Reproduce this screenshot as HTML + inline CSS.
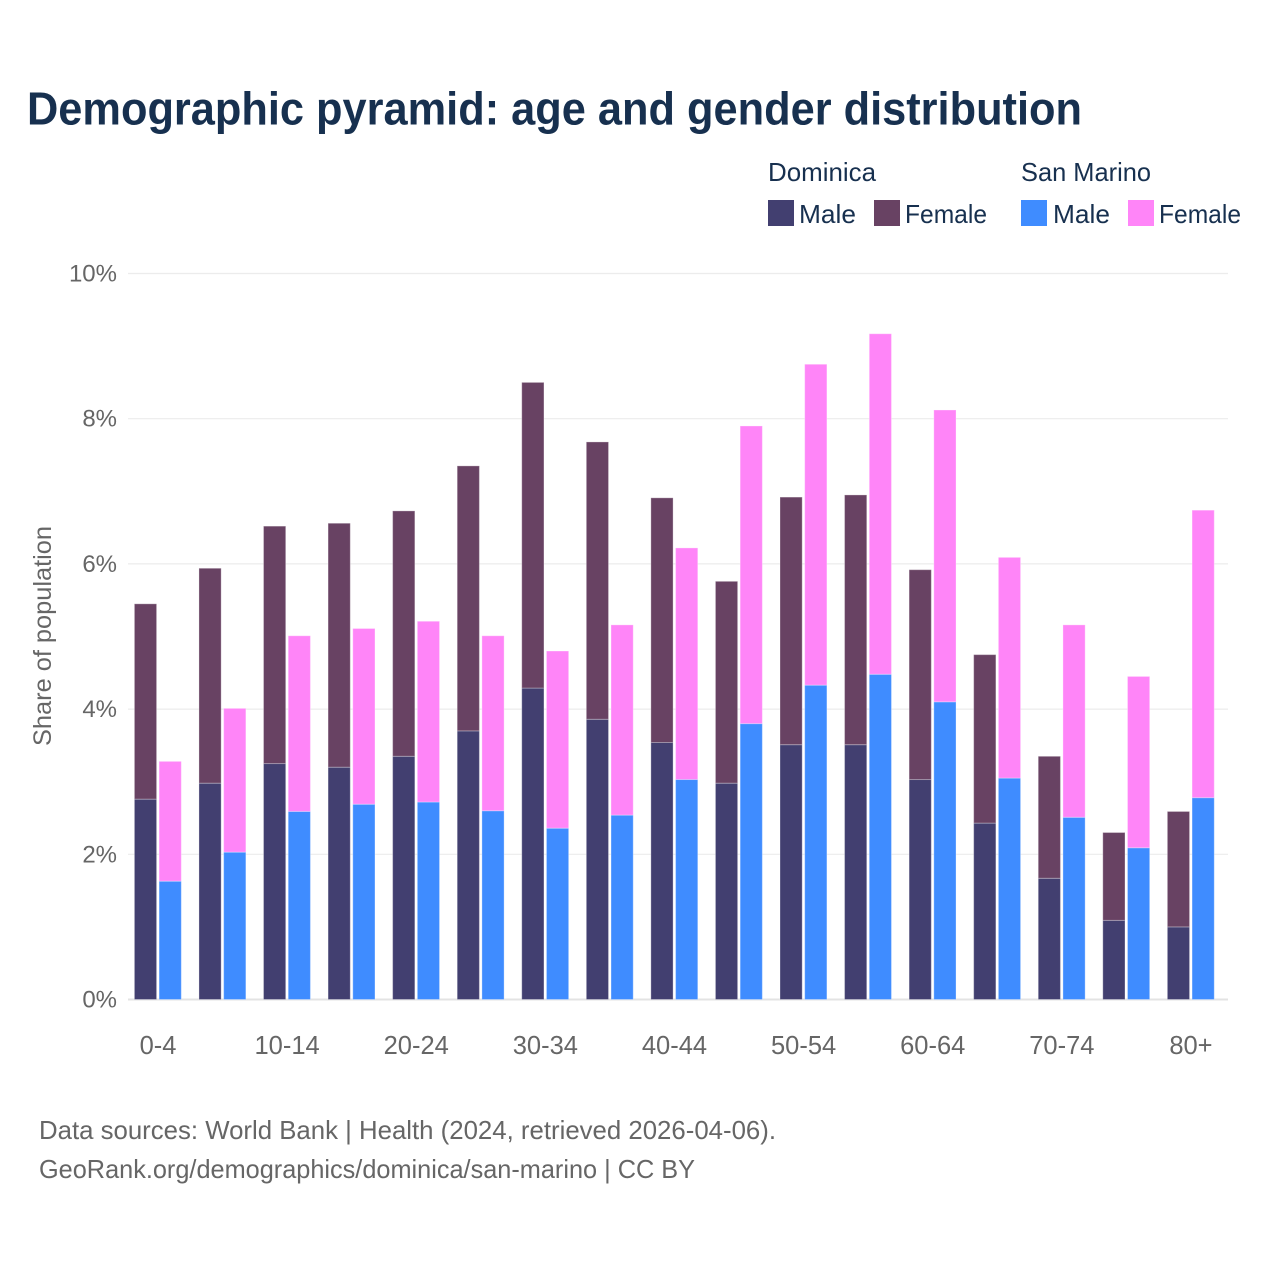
<!DOCTYPE html>
<html lang="en">
<head>
<meta charset="utf-8">
<title>Demographic pyramid</title>
<style>
html,body{margin:0;padding:0;background:#fff;}
svg{display:block;font-family:"Liberation Sans",sans-serif;}
</style>
</head>
<body>
<svg id="chart" width="1280" height="1280" viewBox="0 0 1280 1280" xmlns="http://www.w3.org/2000/svg">
  <rect width="1280" height="1280" fill="#ffffff"/>
  <text x="27" y="124.5" font-size="46" font-weight="700" fill="#17304f" textLength="1055" lengthAdjust="spacingAndGlyphs">Demographic pyramid: age and gender distribution</text>

  <g font-size="26" fill="#17304f">
    <text x="768" y="181" textLength="108" lengthAdjust="spacingAndGlyphs">Dominica</text>
    <text x="1021" y="181" textLength="130" lengthAdjust="spacingAndGlyphs">San Marino</text>
    <rect x="768" y="200" width="26" height="26" fill="#423f70"/>
    <text x="799" y="223" textLength="57" lengthAdjust="spacingAndGlyphs">Male</text>
    <rect x="874" y="200" width="26" height="26" fill="#684263"/>
    <text x="905" y="223" textLength="82" lengthAdjust="spacingAndGlyphs">Female</text>
    <rect x="1021" y="200" width="26" height="26" fill="#3f8cff"/>
    <text x="1053" y="223" textLength="57" lengthAdjust="spacingAndGlyphs">Male</text>
    <rect x="1128" y="200" width="26" height="26" fill="#ff85f8"/>
    <text x="1159" y="223" textLength="82" lengthAdjust="spacingAndGlyphs">Female</text>
  </g>

  <g id="grid"></g>
  <g id="bars"></g>
  <g id="xlabels"></g>
  <g id="ylabels"></g>

  <text transform="translate(51 636) rotate(-90)" text-anchor="middle" font-size="25" fill="#666666" textLength="220" lengthAdjust="spacingAndGlyphs">Share of population</text>

  <g font-size="26" fill="#666666">
    <text x="39" y="1139" textLength="737" lengthAdjust="spacingAndGlyphs">Data sources: World Bank | Health (2024, retrieved 2026-04-06).</text>
    <text x="39" y="1178" textLength="656" lengthAdjust="spacingAndGlyphs">GeoRank.org/demographics/dominica/san-marino | CC BY</text>
  </g>
</svg>
<script>
const categories = ["0-4","5-9","10-14","15-19","20-24","25-29","30-34","35-39","40-44","45-49","50-54","55-59","60-64","65-69","70-74","75-79","80+"];
const dominicaMale = [2.76,2.98,3.25,3.20,3.35,3.70,4.29,3.86,3.54,2.98,3.51,3.51,3.03,2.43,1.67,1.09,1.00];
const dominicaFemale = [2.69,2.96,3.27,3.36,3.38,3.65,4.21,3.82,3.37,2.78,3.41,3.44,2.89,2.32,1.68,1.21,1.59];
const sanMarinoMale = [1.63,2.03,2.59,2.69,2.72,2.60,2.36,2.54,3.03,3.80,4.33,4.48,4.10,3.05,2.51,2.09,2.78];
const sanMarinoFemale = [1.65,1.98,2.42,2.42,2.49,2.41,2.44,2.62,3.19,4.10,4.42,4.69,4.02,3.04,2.65,2.36,3.96];
const yTicks = [0,2,4,6,8,10];

const NS = "http://www.w3.org/2000/svg";
const y = v => 999.5 - v * 72.6;
const groupX = i => 134.4 + i * 64.56;
const BAR_W = 22.2;
const SAN_OFFSET = 24.7;

const make = (tag, parent) => {
  const el = document.createElementNS(NS, tag);
  parent.appendChild(el);
  return el;
};

const grid = document.getElementById("grid");
const ylabels = document.getElementById("ylabels");
yTicks.forEach(t => {
  const line = make("line", grid);
  
  
  line.setAttribute("x1", 128);
  line.setAttribute("x2", 1228);
  line.setAttribute("y1", y(t));
  line.setAttribute("y2", y(t));
  line.setAttribute("stroke", t === 0 ? "#e3e3e3" : "#ececec");
  line.setAttribute("stroke-width", t === 0 ? 2 : 1.2);
  const label = make("text", ylabels);
  
  
  label.setAttribute("x", 117);
  label.setAttribute("y", y(t) + 8);
  label.setAttribute("text-anchor", "end");
  label.setAttribute("font-size", 24);
  label.setAttribute("fill", "#666666");
  label.textContent = t + "%";
});

const bars = document.getElementById("bars");
const drawBar = (x, base, value, fill) => {
  const r = make("rect", bars);
  
  
  r.setAttribute("x", x);
  r.setAttribute("y", y(base + value));
  r.setAttribute("width", BAR_W);
  r.setAttribute("height", y(base) - y(base + value));
  r.setAttribute("fill", fill);
  r.setAttribute("stroke", "#ffffff");
  r.setAttribute("stroke-opacity", "0.3");
  r.setAttribute("stroke-width", "1");
};

const xlabels = document.getElementById("xlabels");
categories.forEach((c, i) => {
  const x0 = groupX(i);
  drawBar(x0, 0, dominicaMale[i], "#423f70");
  drawBar(x0, dominicaMale[i], dominicaFemale[i], "#684263");
  drawBar(x0 + SAN_OFFSET, 0, sanMarinoMale[i], "#3f8cff");
  drawBar(x0 + SAN_OFFSET, sanMarinoMale[i], sanMarinoFemale[i], "#ff85f8");
  if (i % 2 === 0) {
    const t = make("text", xlabels);
    
    
    t.setAttribute("x", x0 + 23.6);
    t.setAttribute("y", 1054);
    t.setAttribute("text-anchor", "middle");
    t.setAttribute("font-size", 25.5);
    t.setAttribute("fill", "#666666");
    t.textContent = c;
  }
});
</script>
</body>
</html>
